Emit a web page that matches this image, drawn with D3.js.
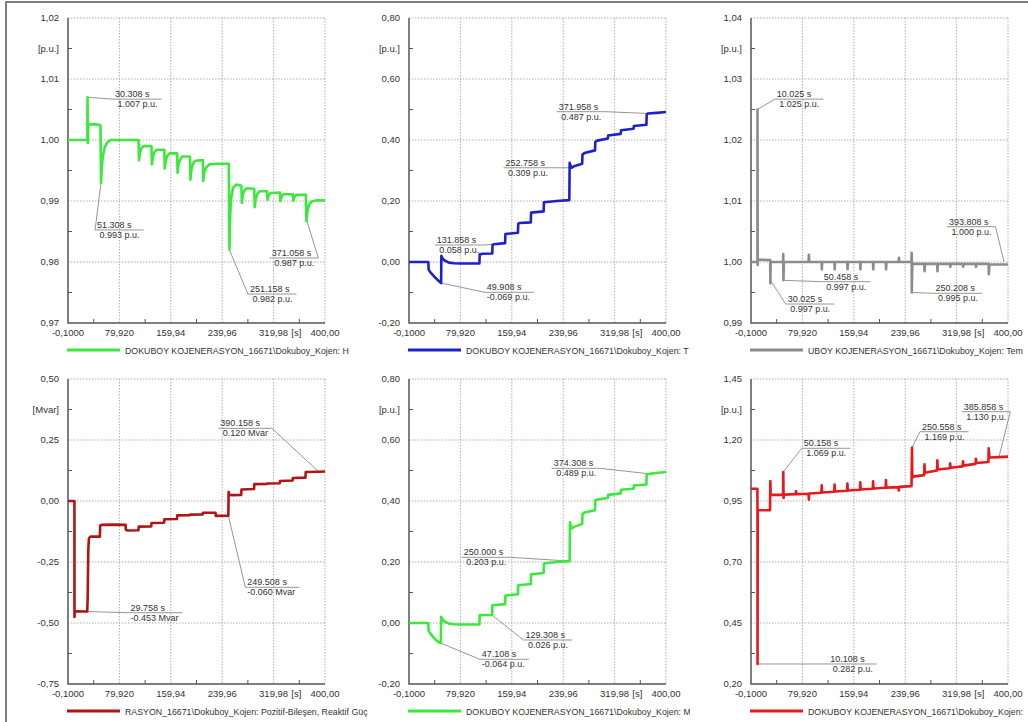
<!DOCTYPE html>
<html>
<head>
<meta charset="utf-8">
<script src="https://cdn.jsdelivr.net/npm/d3@7"></script>
<style>
  html, body { margin: 0; padding: 0; background: #fff; }
  svg { display: block; font-family: "Liberation Sans", Arial, sans-serif; }
</style>
</head>
<body>
<svg id="chart" width="1028" height="722"></svg>
<script>
// x axis is the same for all six plots
var xTickVals = [-0.1, 79.92, 159.94, 239.96, 319.98, 400];
var xTickLabels = ["-0,1000", "79,920", "159,94", "239,96", "319,98", "400,00"];

// y axes
var yTicks1 = [0.97, 0.98, 0.99, 1.00, 1.01, 1.02];
var yLabels1 = ["0,97", "0,98", "0,99", "1,00", "1,01", "1,02"];
var yTicks2 = [-0.2, 0, 0.2, 0.4, 0.6, 0.8];
var yLabels2 = ["-0,20", "0,00", "0,20", "0,40", "0,60", "0,80"];
var yTicks3 = [0.99, 1.00, 1.01, 1.02, 1.03, 1.04];
var yLabels3 = ["0,99", "1,00", "1,01", "1,02", "1,03", "1,04"];
var yTicks4 = [-0.75, -0.5, -0.25, 0, 0.25, 0.5];
var yLabels4 = ["-0,75", "-0,50", "-0,25", "0,00", "0,25", "0,50"];
var yTicks6 = [0.2, 0.45, 0.7, 0.95, 1.2, 1.45];
var yLabels6 = ["0,20", "0,45", "0,70", "0,95", "1,20", "1,45"];

var units = ["[p.u.]", "[p.u.]", "[p.u.]", "[Mvar]", "[p.u.]", "[p.u.]"];

var legendTexts = [
  "DOKUBOY KOJENERASYON_16671\\Dokuboy_Kojen: H",
  "DOKUBOY KOJENERASYON_16671\\Dokuboy_Kojen: T",
  "UBOY KOJENERASYON_16671\\Dokuboy_Kojen: Tem",
  "RASYON_16671\\Dokuboy_Kojen: Pozitif-Bileşen, Reaktif Güç",
  "DOKUBOY KOJENERASYON_16671\\Dokuboy_Kojen: M",
  "DOKUBOY KOJENERASYON_16671\\Dokuboy_Kojen:"
];

// series [time s, value]
var series1 = [[-0.1,1.0],[30.0,1.0],[30.3,1.007],[30.8,0.9995],[31.5,1.0027],[33,1.0025],[40,1.0026],[48,1.0025],[50.5,1.0024],[51.3,0.993],
  [52.5,0.9955],[54,0.9972],[57,0.9988],[61,0.9996],[66,1.0],[109.8,1.0],
  [110.5,0.9967],[112,0.998],[114.5,0.9987],[118,0.999],[129.8,0.999],
  [130.5,0.996],[132,0.9972],[134.5,0.998],[138,0.9984],[149.8,0.9984],
  [150.5,0.9953],[152,0.9966],[154.5,0.9974],[158,0.9978],[169.8,0.9978],
  [170.5,0.9946],[172,0.996],[174.5,0.9968],[178,0.9973],[189.8,0.9973],
  [190.5,0.9935],[192,0.9952],[194.5,0.9961],[198,0.9966],[209.8,0.9967],
  [210.5,0.9933],[212,0.9947],[215,0.9955],[220,0.996],[232,0.9961],[250.2,0.9961],
  [251.2,0.982],[252.5,0.988],[254,0.9905],[257,0.9922],[262,0.9927],[269.8,0.9925],
  [270.6,0.9897],[272,0.991],[274.5,0.9917],[278,0.9921],[289.8,0.992],
  [290.6,0.989],[292,0.9903],[294.5,0.9911],[298,0.9916],[309.8,0.9916],
  [310.6,0.9902],[312,0.9908],[315,0.9913],[329.8,0.9914],
  [330.6,0.99],[332,0.9906],[335,0.9911],[349.8,0.9911],
  [350.6,0.99],[352,0.9906],[355,0.991],[370.2,0.991],
  [371.1,0.9867],[372.5,0.9882],[375,0.9893],[379,0.9899],[386,0.9901],[400,0.9901]];

var series2 = [[-0.1,0],[30,0],[30.5,-0.025],[33,-0.033],[38,-0.045],[44,-0.058],[49.9,-0.069],[50.3,0.02],[52,0.012],[56,0.004],
  [62,-0.002],[70,-0.004],[80,-0.005],[109.5,-0.005],[110,0.025],[115,0.027],[129.5,0.028],[130,0.056],[131.9,0.058],[149.5,0.062],
  [150,0.092],[169.5,0.096],[170,0.125],[172,0.128],[189.5,0.13],[190,0.162],[209.5,0.166],[210,0.196],[230,0.2],[249.5,0.203],
  [250,0.325],[251,0.318],[252.8,0.309],[258,0.315],[269.5,0.322],[270,0.352],[273,0.357],[289.5,0.366],[290,0.394],[293,0.398],
  [309.5,0.405],[310,0.415],[329.5,0.42],[330,0.432],[349.5,0.437],[350,0.446],[369.5,0.45],[370,0.485],[372,0.487],[385,0.489],[400,0.492]];

var series3 = [[-0.1,1.0],[10,1.0],[10.02,1.025],[10.3,0.9995],[11,1.0004],[29.8,1.0003],[30.0,0.9965],[30.5,1.0],[49.8,1.0],[50.1,1.0013],
  [50.45,0.997],[51,1.0],[89.5,1.0],[90,1.0012],[90.5,1.0],[109.8,1.0],[110.2,0.9988],[110.7,1.0],[129.8,1.0],[130.2,0.9988],
  [130.7,1.0],[149.8,1.0],[150.2,0.9988],[150.7,1.0],[169.8,1.0],[170.2,0.9988],[170.7,1.0],[189.8,1.0],[190.2,0.9988],[190.7,1.0],
  [209.8,1.0],[210.2,0.9988],[210.7,1.0],[229.8,1.0],[230.2,1.0007],[230.7,1.0],[249.8,1.0],[250,1.0015],[250.2,0.995],[251,0.9997],
  [269.8,0.9997],[270.2,0.9985],[270.7,0.9997],[289.8,0.9997],[290.2,0.9985],[290.7,0.9997],[309.8,0.9997],[310.2,0.9992],[310.7,0.9997],
  [329.8,0.9997],[330.2,0.9992],[330.7,0.9997],[349.8,0.9997],[350.2,0.9992],[350.7,0.9997],[369.8,0.9997],[370.2,0.998],[370.9,0.9996],[400,0.9996]];

var series4 = [[-0.1,0],[9.9,0],[10.0,-0.475],[10.5,-0.455],[12,-0.452],[29.8,-0.453],[30.5,-0.40],[31.5,-0.20],[32.5,-0.152],[35,-0.146],
  [49.5,-0.146],[50,-0.1],[52,-0.098],[70,-0.097],[89.5,-0.098],[90,-0.118],[93,-0.121],[109.5,-0.12],[110,-0.105],[129.5,-0.104],
  [130,-0.09],[149.5,-0.089],[150,-0.075],[169.5,-0.074],[170,-0.059],[189.5,-0.058],[190,-0.056],[209.5,-0.055],[210,-0.048],[229.5,-0.048],
  [230,-0.061],[249.5,-0.06],[250,0.038],[251,0.026],[255,0.024],[269.5,0.025],[270,0.047],[289.5,0.049],[290,0.069],[309.5,0.07],
  [310,0.072],[329.5,0.073],[330,0.082],[349.5,0.084],[350,0.094],[369.5,0.096],[370,0.119],[390,0.12],[400,0.121]];

var series5 = [[-0.1,0],[30,0],[30.5,-0.025],[33,-0.034],[38,-0.047],[43,-0.058],[47.1,-0.064],[49.5,-0.066],[50,0.02],[52,0.012],
  [56,0.004],[62,-0.002],[70,-0.004],[80,-0.005],[109.5,-0.005],[110,0.025],[115,0.026],[129.3,0.026],[129.8,0.058],[149.5,0.062],
  [150,0.09],[169.5,0.094],[170,0.124],[189.5,0.128],[190,0.16],[209.5,0.164],[210,0.195],[230,0.2],[250,0.203],[250.5,0.33],
  [251.5,0.32],[253,0.31],[258,0.316],[269.5,0.325],[270,0.357],[273,0.362],[289.5,0.37],[290,0.402],[293,0.405],[309.5,0.41],
  [310,0.42],[329.5,0.425],[330,0.437],[349.5,0.44],[350,0.451],[369.5,0.454],[370,0.488],[374.3,0.489],[385,0.492],[400,0.495]];

var series6 = [[-0.1,1.0],[9.9,1.0],[10.0,0.88],[10.1,0.282],[10.4,0.915],[11,0.912],[29.5,0.912],[30,1.032],[30.5,0.972],[31.5,0.975],
  [49.8,0.976],[50.16,1.069],[50.6,0.962],[51.5,0.976],[69.5,0.978],[70,0.99],[70.5,0.978],[89.5,0.98],[90,0.955],[90.5,0.981],
  [109.5,0.984],[110,1.014],[110.6,0.985],[129.5,0.988],[130,1.017],[130.6,0.989],[149.5,0.992],[150,1.022],[150.6,0.993],
  [169.5,0.996],[170,1.027],[170.6,0.997],[189.5,1.0],[190,1.031],[190.6,1.001],[209.5,1.004],[210,1.036],[210.6,1.005],
  [229.5,1.007],[230,0.993],[230.6,1.008],[249.8,1.011],[250.56,1.169],[251,1.045],[252,1.05],[269.5,1.056],[270,1.1],[270.6,1.066],
  [289.5,1.075],[290,1.117],[290.6,1.079],[309.5,1.084],[310,1.104],[310.6,1.086],[329.5,1.092],[330,1.113],[330.6,1.095],
  [349.5,1.102],[350,1.123],[350.6,1.106],[369.5,1.11],[370,1.166],[371,1.128],[385.9,1.13],[400,1.132]];

// marker labels: point (t, v), label anchor (lt, lv) in data units
var notes1 = [
  {t: 30.308, v: 1.007, lt: 70, lv: 1.0067, a: "30.308 s", b: " 1.007 p.u."},
  {t: 51.308, v: 0.993, lt: 42, lv: 0.98525, a: "51.308 s", b: " 0.993 p.u."},
  {t: 251.158, v: 0.982, lt: 280, lv: 0.97475, a: "251.158 s", b: " 0.982 p.u."},
  {t: 371.058, v: 0.987, lt: 314, lv: 0.98066, a: "371.058 s", b: " 0.987 p.u."}
];
var notes2 = [
  {t: 49.908, v: -0.069, lt: 118, lv: -0.0994, a: "49.908 s", b: "-0.069 p.u."},
  {t: 131.858, v: 0.058, lt: 40, lv: 0.0557, a: "131.858 s", b: " 0.058 p.u."},
  {t: 252.758, v: 0.309, lt: 147, lv: 0.309, a: "252.758 s", b: " 0.309 p.u."},
  {t: 371.958, v: 0.487, lt: 230, lv: 0.4928, a: "371.958 s", b: " 0.487 p.u."}
];
var notes3 = [
  {t: 10.025, v: 1.025, lt: 37, lv: 1.0267, a: "10.025 s", b: " 1.025 p.u."},
  {t: 30.025, v: 0.997, lt: 54, lv: 0.99311, a: "30.025 s", b: " 0.997 p.u."},
  {t: 50.458, v: 0.997, lt: 110, lv: 0.99677, a: "50.458 s", b: " 0.997 p.u."},
  {t: 250.208, v: 0.995, lt: 284, lv: 0.99487, a: "250.208 s", b: " 0.995 p.u."},
  {t: 393.808, v: 1.000, lt: 305, lv: 1.00579, a: "393.808 s", b: " 1.000 p.u."}
];
var notes4 = [
  {t: 29.758, v: -0.453, lt: 94, lv: -0.4578, a: "29.758 s", b: "-0.453 Mvar"},
  {t: 249.508, v: -0.060, lt: 276, lv: -0.3538, a: "249.508 s", b: "-0.060 Mvar"},
  {t: 390.158, v: 0.120, lt: 234, lv: 0.2978, a: "390.158 s", b: " 0.120 Mvar"}
];
var notes5 = [
  {t: 47.108, v: -0.064, lt: 110, lv: -0.119, a: "47.108 s", b: "-0.064 p.u."},
  {t: 129.308, v: 0.026, lt: 178, lv: -0.0557, a: "129.308 s", b: " 0.026 p.u."},
  {t: 250.000, v: 0.203, lt: 82, lv: 0.2153, a: "250.000 s", b: " 0.203 p.u."},
  {t: 374.308, v: 0.489, lt: 222, lv: 0.5071, a: "374.308 s", b: " 0.489 p.u."}
];
var notes6 = [
  {t: 10.108, v: 0.282, lt: 120, lv: 0.282, a: "10.108 s", b: " 0.282 p.u."},
  {t: 50.158, v: 1.069, lt: 79, lv: 1.166, a: "50.158 s", b: " 1.069 p.u."},
  {t: 250.558, v: 1.169, lt: 263, lv: 1.234, a: "250.558 s", b: " 1.169 p.u."},
  {t: 385.858, v: 1.130, lt: 328, lv: 1.316, a: "385.858 s", b: " 1.130 p.u."}
];

var panels = [
  {col: 0, row: 0, data: series1, notes: notes1, ticks: yTicks1, labels: yLabels1, color: "#3de83d", clip: true},
  {col: 1, row: 0, data: series2, notes: notes2, ticks: yTicks2, labels: yLabels2, color: "#1d22c8", clip: true},
  {col: 2, row: 0, data: series3, notes: notes3, ticks: yTicks3, labels: yLabels3, color: "#8c8c8c", clip: false},
  {col: 0, row: 1, data: series4, notes: notes4, ticks: yTicks4, labels: yLabels4, color: "#b01414", clip: false},
  {col: 1, row: 1, data: series5, notes: notes5, ticks: yTicks2, labels: yLabels2, color: "#3de83d", clip: true},
  {col: 2, row: 1, data: series6, notes: notes6, ticks: yTicks6, labels: yLabels6, color: "#e8191c", clip: false}
];

var svg = d3.select("#chart");
var colX = [68, 409, 751];
var rowY = [18, 379];
var W = 257, H = 305;

// outer frame
svg.append("path").attr("d", "M6,722V2H1028").attr("fill", "none").attr("stroke", "#555").attr("stroke-width", 1.5);

panels.forEach(function (p, i) {
  var x0 = colX[p.col], y0 = rowY[p.row];
  var x = d3.scaleLinear().domain([-0.1, 400]).range([x0, x0 + W]);
  var y = d3.scaleLinear().domain([p.ticks[0], p.ticks[p.ticks.length - 1]]).range([y0 + H, y0]);
  var g = svg.append("g");

  // dotted grid
  g.selectAll(".gx").data(xTickVals.slice(1)).enter().append("line")
    .attr("x1", function (d) { return x(d); }).attr("x2", function (d) { return x(d); })
    .attr("y1", y0).attr("y2", y0 + H)
    .attr("stroke", "#9a9a9a").attr("stroke-width", 0.8).attr("stroke-dasharray", "1.5,1.5");
  g.selectAll(".gy").data(p.ticks.slice(1)).enter().append("line")
    .attr("y1", function (d) { return y(d); }).attr("y2", function (d) { return y(d); })
    .attr("x1", x0).attr("x2", x0 + W)
    .attr("stroke", "#9a9a9a").attr("stroke-width", 0.8).attr("stroke-dasharray", "1.5,1.5");

  // minor ticks
  var xm = xTickVals.slice(1).map(function (d, k) { return (d + xTickVals[k]) / 2; });
  var ym = p.ticks.slice(1).map(function (d, k) { return (d + p.ticks[k]) / 2; });
  g.selectAll(".mx").data(xm).enter().append("line")
    .attr("x1", function (d) { return x(d); }).attr("x2", function (d) { return x(d); })
    .attr("y1", y0 + H).attr("y2", y0 + H - 4).attr("stroke", "#555");
  g.selectAll(".my").data(ym).enter().append("line")
    .attr("y1", function (d) { return y(d); }).attr("y2", function (d) { return y(d); })
    .attr("x1", x0).attr("x2", x0 + 4).attr("stroke", "#555");

  // axes lines
  g.append("path").attr("d", "M" + x0 + "," + y0 + "V" + (y0 + H) + "H" + (x0 + W))
    .attr("fill", "none").attr("stroke", "#555").attr("stroke-width", 1.5);

  // tick labels
  g.selectAll(".ly").data(p.ticks).enter().append("text")
    .attr("x", x0 - 9).attr("y", function (d) { return y(d) + 3; })
    .attr("text-anchor", "end").attr("font-size", 9.5).attr("fill", "#333")
    .text(function (d, k) { return p.labels[k]; });
  g.append("text").attr("x", x0 - 9).attr("y", y(ym[ym.length - 1]) + 3)
    .attr("text-anchor", "end").attr("font-size", 9.5).attr("fill", "#333").text(units[i]);
  g.selectAll(".lx").data(xTickVals).enter().append("text")
    .attr("x", function (d) { return x(d); }).attr("y", y0 + H + 13)
    .attr("text-anchor", "middle").attr("font-size", 9.5).attr("fill", "#333")
    .text(function (d, k) { return xTickLabels[k]; });
  g.append("text").attr("x", x(xm[xm.length - 1]) - 3).attr("y", y0 + H + 13)
    .attr("text-anchor", "middle").attr("font-size", 9.5).attr("fill", "#333").text("[s]");

  // curve
  var line = d3.line().x(function (d) { return x(d[0]); }).y(function (d) { return y(d[1]); });
  g.append("path").datum(p.data).attr("d", line)
    .attr("fill", "none").attr("stroke", p.color).attr("stroke-width", 2.6)
    .attr("stroke-linejoin", "round");

  // marker labels
  p.notes.forEach(function (n) {
    var px = x(n.t), py = y(n.v), lx = x(n.lt), ly = y(n.lv);
    var t1 = g.append("text").attr("x", lx + 2).attr("y", ly - 2).attr("font-size", 9).attr("fill", "#333").text(n.a);
    var t2 = g.append("text").attr("x", lx + 2).attr("y", ly + 8).attr("font-size", 9).attr("fill", "#333")
      .attr("xml:space", "preserve").style("white-space", "pre").text(n.b);
    var tw = Math.max(t1.node().getComputedTextLength(), t2.node().getComputedTextLength());
    var rx = lx + tw + 6;
    var ex = Math.abs(px - lx) < Math.abs(px - rx) ? lx : rx;
    g.insert("line", "text").attr("x1", lx).attr("x2", rx).attr("y1", ly).attr("y2", ly)
      .attr("stroke", "#8a8a8a").attr("stroke-width", 0.9);
    g.insert("line", "text").attr("x1", px).attr("y1", py).attr("x2", ex).attr("y2", ly)
      .attr("stroke", "#8a8a8a").attr("stroke-width", 0.9);
  });

  // legend
  var ly2 = y0 + H + 27;
  g.append("line").attr("x1", x0 - 1).attr("x2", x0 + 52).attr("y1", ly2).attr("y2", ly2)
    .attr("stroke", p.color).attr("stroke-width", 3);
  if (p.clip) {
    svg.append("clipPath").attr("id", "clip" + i).append("rect")
      .attr("x", x0).attr("y", ly2 - 10).attr("width", 281).attr("height", 20);
  }
  var lt = g.append("text").attr("x", x0 + 57).attr("y", ly2 + 3.5)
    .attr("font-size", 8.8).attr("fill", "#333").text(legendTexts[i]);
  if (p.clip) lt.attr("clip-path", "url(#clip" + i + ")");
});
</script>
</body>
</html>
